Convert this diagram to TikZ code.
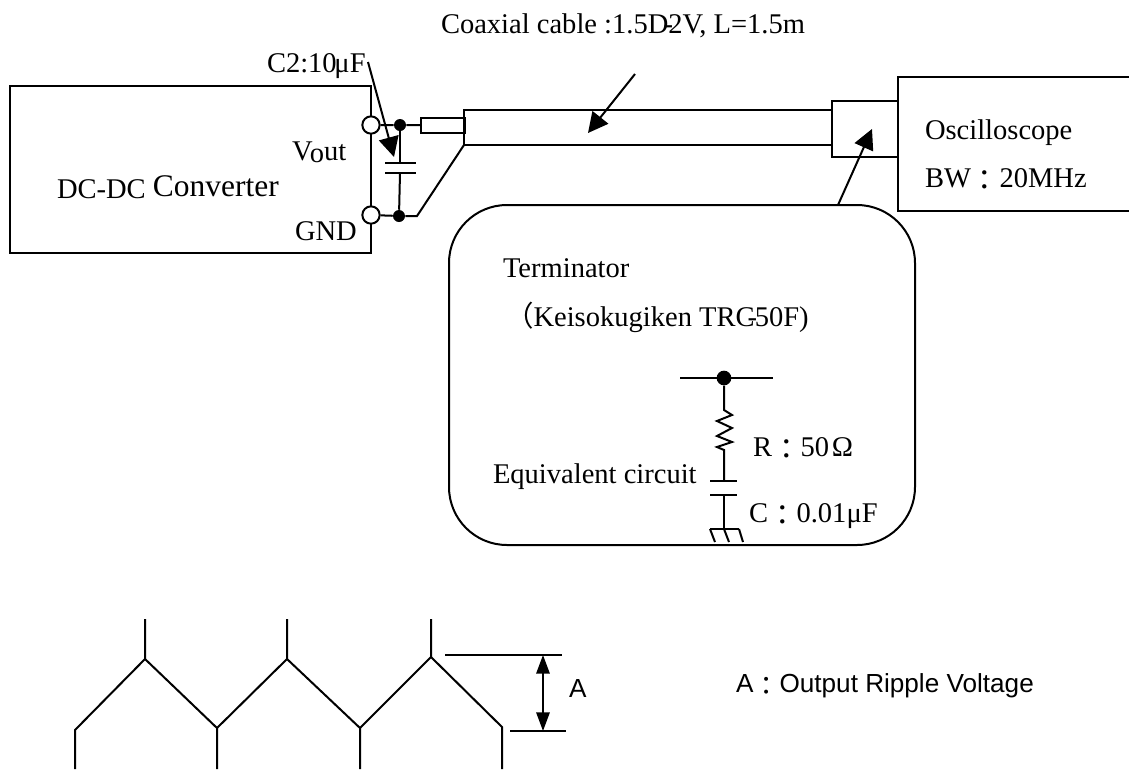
\documentclass[tikz,border=0pt]{standalone}
\usepackage{fontspec}
\setmainfont{Liberation Serif}
\newfontfamily\hel{Liberation Sans}
\newfontfamily\cjkf{Noto Sans CJK JP}
\newcommand{\fw}[1]{{\cjkf #1}}
\newcommand{\fwc}{\raisebox{-2.5pt}{\cjkf ：}}
\usetikzlibrary{arrows.meta}
\tikzset{
  x=0.75pt,y=-0.75pt,
  wire/.style={draw=black,line width=1.5pt},
  lbl/.style={anchor=base west,inner sep=0pt,outer sep=0pt,font=\fontsize{21.4}{25}\selectfont},
  sanslbl/.style={lbl,font=\hel\fontsize{19.6}{23}\selectfont},
  term/.style={circle,draw=black,fill=white,line width=1.5pt,minimum size=13pt,inner sep=0pt},
  jdot/.style={circle,fill=black,minimum size=9pt,inner sep=0pt},
  tip/.style={-{Triangle[length=15pt,width=15pt]},line width=1.5pt},
  dbl/.style={{Triangle[length=14pt,width=10pt]}-{Triangle[length=14pt,width=10pt]},line width=1.5pt}
}
\begin{document}
\begin{tikzpicture}
\useasboundingbox (0,0) rectangle (1129,769);
% DC-DC box
\coordinate (bA) at (371,86); \coordinate (bB) at (10,86); \coordinate (bC) at (10,253); \coordinate (bD) at (371,253);
\draw[wire] (bA) -- (bB) -- (bC) -- (bD) -- cycle;
\node[term] (t1) at (371,125) {};
\node[term] (t2) at (371,215) {};
\node[jdot] (d1) at (400,125) {};
\node[jdot] (d2) at (399,216) {};
\coordinate (p1a) at (385,163); \coordinate (p1b) at (416,163);
\coordinate (p2a) at (385,173); \coordinate (p2b) at (416,173);
\coordinate (p1m) at (400,163); \coordinate (p2m) at (400,173);
\draw[wire] (p1a) -- (p1b); \draw[wire] (p2a) -- (p2b);
\draw[wire] (d1) -- (p1m); \draw[wire] (p2m) -- (d2);
\node[draw=black,line width=1.5pt,minimum width=33pt,minimum height=11pt,inner sep=0pt] (plug) at (443,125.5) {};
\draw[wire] (t1) -- (d1) -- (plug);
\coordinate (g1) at (417,216); \coordinate (g2) at (464,145);
\draw[wire] (t2) -- (d2) -- (g1) -- (g2);
% cable
\draw[wire] (832,110) -- (464,110) -- (464,145) -- (832,145);
% terminator box, scope
\draw[wire] (832,101) rectangle (898,157);
\draw[wire] (1129,77) -- (898,77) -- (898,211) -- (1129,211);
% rounded box
\draw[wire,rounded corners=43.5pt] (449,205) rectangle (915,545);
% arrows
\coordinate (a1s) at (368,62); \coordinate (a1e) at (394,157);
\draw[tip] (a1s) -- (a1e);
\coordinate (a2s) at (635,74); \coordinate (a2e) at (588,133);
\draw[tip] (a2s) -- (a2e);
\coordinate (a3s) at (838,205); \coordinate (a3e) at (872,129);
\draw[tip] (a3s) -- (a3e);
% equivalent circuit
\node[jdot,minimum size=11pt] (d3) at (724,378) {};
\draw[wire] (680,378) -- (773,378);
\draw[wire] (d3) -- (724,410) -- (732,415) -- (717,421) -- (732,428) -- (717,436) -- (732,442) -- (717,447) -- (724,450) -- (724,481);
\draw[wire] (710,481) -- (737,481);
\draw[wire] (710,495) -- (737,495);
\draw[wire] (724,495) -- (724,529);
\draw[wire] (710,529) -- (739,529);
\draw[wire] (710,529) -- (715,542);
\draw[wire] (724,529) -- (729,542);
\draw[wire] (739,529) -- (743,542);
% waveform
\draw[wire] (75,769) -- (75,730) -- (145,659) -- (145,619);
\draw[wire] (145,659) -- (217,728) -- (217,769);
\draw[wire] (217,728) -- (287,659) -- (287,619);
\draw[wire] (287,659) -- (360,728) -- (360,769);
\draw[wire] (360,728) -- (431,657) -- (431,619);
\draw[wire] (431,657) -- (502,727) -- (502,769);
\draw[wire] (445,655) -- (562,655);
\draw[wire] (510,731) -- (566,731);
\coordinate (ds) at (543,655); \coordinate (de) at (543,731);
\draw[dbl] (ds) -- (de);
% labels
\node[lbl] (l1) at (441,33) {Coaxial cable :1.5D\kern-.17em-\kern-.17em 2V, L=1.5m};
\node[lbl] (l2) at (267,72) {C2:10\kern-.08em μF};
\node[lbl] (l3) at (292,160) {V\kern-.1em\raisebox{-2pt}{o}ut};
\node[lbl] (l4) at (57,198) {DC-DC\kern.25em\raisebox{1.5pt}{\fontsize{23.6}{25}\selectfont Converter}};
\node[lbl] (l5) at (295,240) {GND};
\node[lbl] (l6) at (925,139) {Oscilloscope};
\node[lbl] (l7) at (925,187) {BW\fwc{}20MHz};
\node[lbl] (l8) at (503,277) {Terminator};
\node[lbl] (l9) at (505,326) {\fw{（}Keisokugiken TRC\kern-.25em-\kern-.08em 50F)};
\node[lbl] (l10) at (493,483) {Equivalent circuit};
\node[lbl] (l11) at (753,456) {R\fwc{}50\kern.1em Ω};
\node[lbl] (l12) at (749,522) {C\fwc{}0.01μF};
\node[sanslbl] (l13) at (569,697) {A};
\node[sanslbl] (l14) at (736,692) {A\fwc{}Output Ripple Voltage};
\end{tikzpicture}
\end{document}
